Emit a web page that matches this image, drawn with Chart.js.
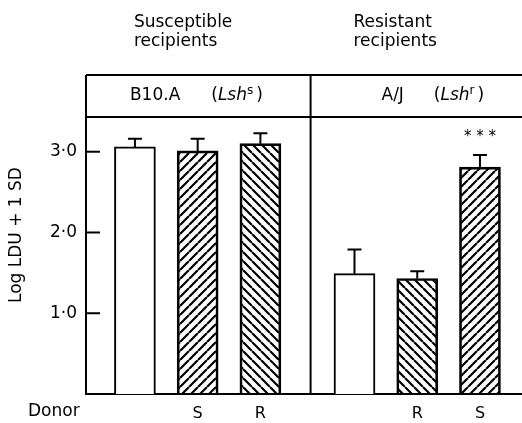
<!DOCTYPE html>
<html>
<head>
<meta charset="utf-8">
<script src="https://cdn.jsdelivr.net/npm/chart.js@4.4.1/dist/chart.umd.min.js"></script>
<style>
  html, body { margin: 0; padding: 0; background: #fff; }
  #wrap { width: 522px; height: 423px; }
</style>
</head>
<body>
<div id="wrap"><canvas id="chart" width="522" height="423"></canvas></div>
<script>
// data
const donors = ['', 'S', 'R', '', 'R', 'S'];
const meanLog = [3.06, 3.01, 3.10, 1.49, 1.43, 2.81];
const sdLog = [0.10, 0.15, 0.13, 0.30, 0.09, 0.15];
const stars = ['', '', '', '', '', '* * *'];
const yTicks = [1, 2, 3];
const groups = [['Susceptible', 'recipients'], ['Resistant', 'recipients']];
const strains = ['B10.A', 'A/J'];
const alleles = ['s', 'r'];

// layout: where each bar sits on the x axis (two panels)
const slot = [1, 2, 3, 4.5, 5.5, 6.5];
const divider = 3.8;
const FONT = '"DejaVu Sans", sans-serif';

function hatch(dir) {
  const s = 9;
  const c = document.createElement('canvas');
  c.width = s; c.height = s;
  const g = c.getContext('2d');
  g.strokeStyle = '#000';
  g.lineWidth = 2.2;
  g.beginPath();
  for (let k = -1; k <= 1; k++) {
    if (dir === '/') { g.moveTo(k * s, s); g.lineTo(k * s + s, 0); }
    else { g.moveTo(k * s, 0); g.lineTo(k * s + s, s); }
  }
  g.stroke();
  return g.createPattern(c, 'repeat');
}
const fills = donors.map(d => d === 'S' ? hatch('/') : d === 'R' ? hatch('\\') : '#fff');

function drawRuns(ctx, x, y, runs) {
  runs.forEach(r => {
    ctx.font = r.font;
    ctx.fillText(r.t, x, y + (r.dy || 0));
    x += ctx.measureText(r.t).width + (r.gap || 0);
  });
}

const decor = {
  id: 'decor',
  afterDatasetsDraw(chart) {
    const ctx = chart.ctx, xs = chart.scales.x, ys = chart.scales.y;
    const a = chart.chartArea;
    const boxTop = a.top - 42;
    const xd = xs.getPixelForValue(divider);
    ctx.save();
    ctx.strokeStyle = '#000';
    ctx.fillStyle = '#000';
    ctx.lineWidth = 2;

    // error bars
    const meta = chart.getDatasetMeta(0);
    meta.data.forEach((bar, i) => {
      const y0 = ys.getPixelForValue(meanLog[i]);
      const y1 = ys.getPixelForValue(meanLog[i] + sdLog[i]);
      ctx.beginPath();
      ctx.moveTo(bar.x, y0); ctx.lineTo(bar.x, y1);
      ctx.moveTo(bar.x - 7, y1); ctx.lineTo(bar.x + 7, y1);
      ctx.stroke();
      if (stars[i]) {
        ctx.font = '15px ' + FONT;
        ctx.textAlign = 'center';
        ctx.textBaseline = 'middle';
        ctx.fillText(stars[i], bar.x, y1 - 18);
      }
    });

    // inward y ticks
    yTicks.forEach(v => {
      const y = ys.getPixelForValue(v);
      ctx.beginPath(); ctx.moveTo(a.left, y); ctx.lineTo(a.left + 14, y); ctx.stroke();
    });

    // header box and panel divider
    ctx.beginPath();
    ctx.moveTo(a.left, boxTop); ctx.lineTo(a.right, boxTop);
    ctx.moveTo(a.left, a.top); ctx.lineTo(a.right, a.top);
    ctx.moveTo(a.left, boxTop); ctx.lineTo(a.left, a.top);
    ctx.moveTo(xd, boxTop); ctx.lineTo(xd, a.bottom);
    ctx.stroke();

    // strain labels in the box
    ctx.textAlign = 'left';
    ctx.textBaseline = 'middle';
    const boxMid = (boxTop + a.top) / 2;
    const strainX = [xs.getPixelForValue(slot[0]) - 5, xs.getPixelForValue(slot[3]) + 27];
    strains.forEach((s, k) => {
      const gapW = k === 0 ? 31 : 30;
      drawRuns(ctx, strainX[k], boxMid, [
        { t: s, font: '17px ' + FONT, gap: gapW },
        { t: '(', font: '17px ' + FONT },
        { t: 'Lsh', font: 'italic 17px ' + FONT },
        { t: alleles[k], font: '12px ' + FONT, dy: -5, gap: 3 },
        { t: ')', font: '17px ' + FONT }
      ]);
    });

    // recipient headings
    ctx.font = '17px ' + FONT;
    ctx.textBaseline = 'alphabetic';
    [slot[0], slot[3]].forEach((v, k) => {
      const x = xs.getPixelForValue(v) - 1;
      ctx.fillText(groups[k][0], x, 27);
      ctx.fillText(groups[k][1], x, 46);
    });

    // Donor caption
    ctx.textBaseline = 'middle';
    ctx.fillText('Donor', 28, 412);

    // y title
    ctx.translate(17, 235);
    ctx.rotate(-Math.PI / 2);
    ctx.textAlign = 'center';
    ctx.fillText('Log LDU + 1 SD', 0, 0);
    ctx.restore();
  }
};

new Chart(document.getElementById('chart'), {
  type: 'bar',
  data: {
    datasets: [{
      data: slot.map((x, i) => ({ x: x, y: meanLog[i] })),
      backgroundColor: fills,
      borderColor: '#000',
      borderWidth: 2,
      borderSkipped: 'bottom',
      barThickness: 41
    }]
  },
  options: {
    responsive: false,
    animation: false,
    devicePixelRatio: 1,
    layout: { padding: { top: 117, right: 0, left: 0, bottom: 0 } },
    plugins: { legend: { display: false }, tooltip: { enabled: false } },
    scales: {
      x: {
        type: 'linear',
        offset: false,
        min: 0.22,
        max: 7.17,
        afterBuildTicks: axis => { axis.ticks = slot.map(v => ({ value: v })); },
        afterFit: axis => { axis.height = 29; },
        grid: { display: false, offset: false },
        border: { display: true, color: '#000', width: 2 },
        ticks: {
          autoSkip: false,
          maxRotation: 0,
          padding: 2,
          color: '#000',
          font: { family: FONT, size: 16 },
          callback: (v, i) => donors[i]
        }
      },
      y: {
        min: 0,
        max: 3.43,
        afterBuildTicks: axis => { axis.ticks = yTicks.map(v => ({ value: v })); },
        afterFit: axis => { axis.width = 86; },
        grid: { display: false },
        border: { display: true, color: '#000', width: 2 },
        ticks: {
          padding: 1,
          color: '#000',
          font: { family: FONT, size: 17 },
          callback: v => v.toFixed(1).replace('.', '\u00b7')
        }
      }
    }
  },
  plugins: [decor]
});
</script>
</body>
</html>
